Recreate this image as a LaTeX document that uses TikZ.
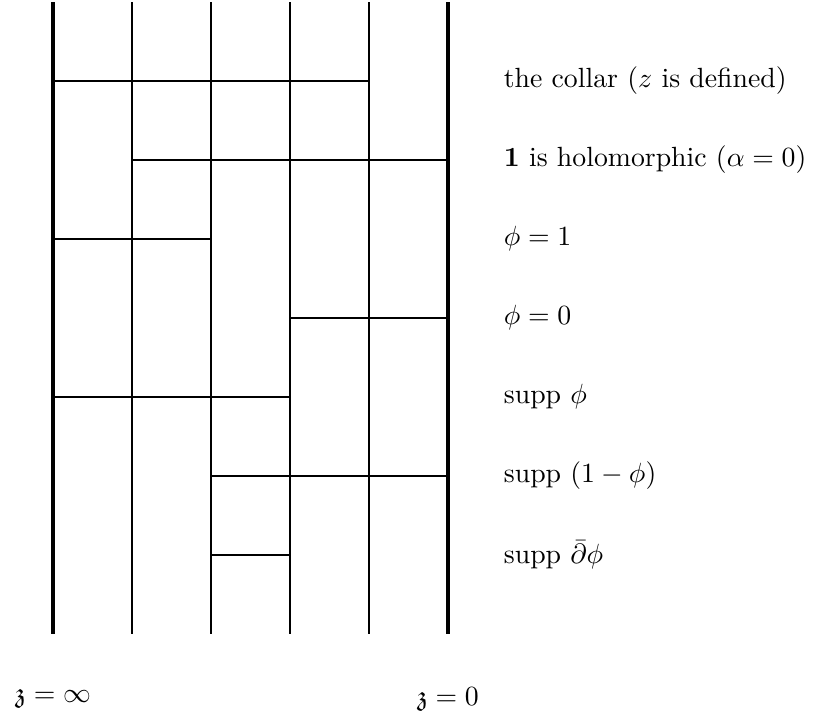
\documentclass[tikz,border=0pt]{standalone}
\usepackage{amsmath,amssymb}
\usepackage{tikz}
\usetikzlibrary{positioning}

\begin{document}
\begin{tikzpicture}[
  wall/.style={very thick},
  cut/.style={line width=0.7pt},
  lbl/.style={anchor=west, inner sep=0pt}]
\useasboundingbox (-0.671,-2.076) rectangle (9.734,7.025);
% Strip: thick outer edges, thin columns between
\draw[wall] (0,-1) -- (0,7);
\draw[wall] (5,-1) -- (5,7);
\foreach \x in {1,...,4}
  \draw[cut] (\x,-1) -- (\x,7);
% Horizontal cuts, one for each region
\draw[cut] (0,6) -- (4,6);
\draw[cut] (1,5) -- (5,5);
\draw[cut] (0,4) -- (2,4);
\draw[cut] (3,3) -- (5,3);
\draw[cut] (0,2) -- (3,2);
\draw[cut] (2,1) -- (5,1);
\draw[cut] (2,0) -- (3,0);
% Region labels
\node[lbl] (collar) at (5.7,6) {the collar ($z$ is defined)};
\node[lbl] (holo) at (5.7,5) {$\mathbf{1}$ is holomorphic ($\alpha=0$)};
\node[lbl] (phione) at (5.7,4) {$\phi=1$};
\node[lbl] (phizero) at (5.7,3) {$\phi=0$};
\node[lbl] (supp) at (5.7,2) {supp $\phi$};
\node[lbl] (suppc) at (5.7,1) {supp $(1-\phi)$};
\node[lbl] (suppd) at (5.7,0) {supp $\bar\partial\phi$};
% Ends of the strip
\node (zinf) at (0,-1.82) {$\mathfrak{z}=\infty$};
\node (zzero) at (5,-1.82) {$\mathfrak{z}=0$};
\end{tikzpicture}
\end{document}
